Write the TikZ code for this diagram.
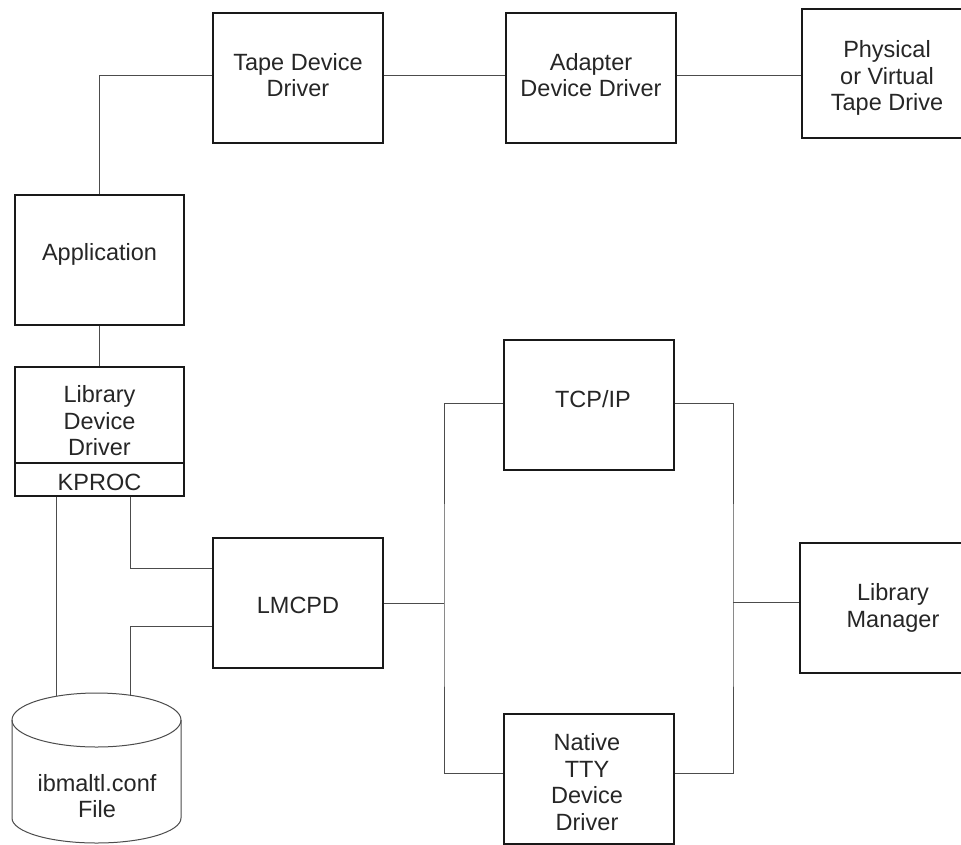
\documentclass[tikz,border=0pt]{standalone}
\usepackage{fontspec}
\setmainfont{Liberation Sans}
\newcommand{\lblfont}{\fontsize{23.5}{26.5}\selectfont}
\begin{document}
\begin{tikzpicture}[x=1pt,y=-1pt,
  box/.style={draw=black!90, line width=1.4pt, minimum width=170pt, minimum height=130pt,
    inner sep=0pt},
  wire/.style={draw=black!70, line width=1pt},
  cylline/.style={draw=black!70, line width=1pt},
  lbl/.style={align=center, font=\lblfont, text=black!85, inner sep=0pt}]
\useasboundingbox (0,0) rectangle (961,844);
\fill[white] (0,0) rectangle (961,844);
\clip (0,0) rectangle (961,844);

% boxes
\node[box] (tape) at (298,78) {};
\node[box] (adapter) at (591,78) {};
\node[box, minimum height=129pt] (phys) at (887,73.5) {};
\node[box, minimum width=169pt] (app) at (99.5,260) {};
\node[box, minimum width=169pt, minimum height=96pt] (ldd) at (99.5,415) {};
\node[box, minimum width=169pt, minimum height=33pt] (kproc) at (99.5,479.5) {};
\node[box] (lmcpd) at (298,603) {};
\node[box] (tcp) at (589,405) {};
\node[box] (tty) at (589,779) {};
\node[box, minimum width=186pt] (lm) at (893,608) {};

% labels
\node[lbl] (tapetxt) at (298,75) {Tape Device\\Driver};
\node[lbl] (adaptertxt) at (591,75) {Adapter\\Device Driver};
\node[lbl] (physt) at (887,78) {Physical\\or Virtual\\Tape Drive};
\node[lbl] (apptxt) at (99.5,254) {Application};
\node[lbl] (lddtxt) at (99.5,421) {Library\\Device\\Driver};
\node[lbl] (kproctxt) at (99.5,482) {KPROC};
\node[lbl] (lmcpdtxt) at (298,605) {LMCPD};
\node[lbl] (tcptxt) at (593,399) {TCP/IP};
\node[lbl] (ttytxt) at (587,782) {Native\\TTY\\Device\\Driver};
\node[lbl] (lmtxt) at (893,608) {Library\\Manager};

% cylinder
\draw[cylline] (12,720) -- (12,818) arc[start angle=180, end angle=360, x radius=84.5pt, y radius=25pt] -- (181,720);
\draw[cylline] (96.5,720) ellipse [x radius=84.5pt, y radius=27pt];
\node[lbl] (cyl) at (97,796) {ibmaltl.conf\\File};
\coordinate (c1) at (56,696);
\coordinate (c2) at (130,695);

% bus points
\coordinate (bl) at (444,602);
\coordinate (br) at (733,602);

% connectors
\draw[wire] (app.north) |- ([yshift=3pt]tape.west);
\draw[wire] ([yshift=3pt]tape.east) -- ([yshift=3pt]adapter.west);
\draw[wire] ([yshift=3pt]adapter.east) -- ([yshift=3pt]adapter.east -| phys.west);
\draw[wire] (app.south) -- (ldd.north);
\draw[wire] (kproc.south -| c1) -- (c1);
\draw[wire] (kproc.south -| c2) |- ([yshift=35pt]lmcpd.west);
\draw[wire] (c2) |- ([yshift=-23pt]lmcpd.west);
\draw[wire] (lmcpd.east) -- (lmcpd.east -| bl);
\draw[wire] ([yshift=2pt]tcp.west) -| (bl) |- ([yshift=6pt]tty.west);
\draw[wire] ([yshift=2pt]tcp.east) -| (br) |- ([yshift=6pt]tty.east);
\draw[wire] (br) -- (br -| lm.west);
\end{tikzpicture}
\end{document}
